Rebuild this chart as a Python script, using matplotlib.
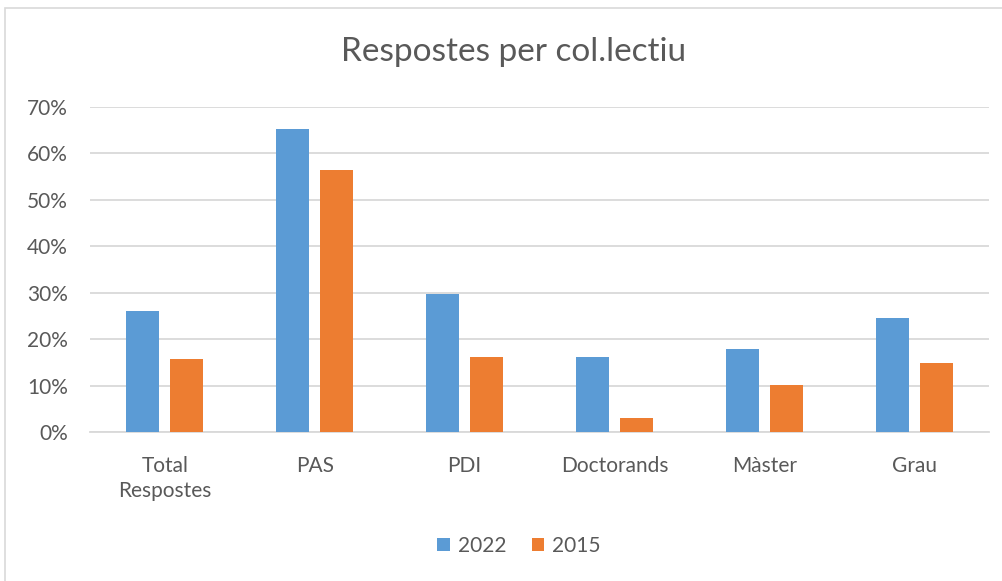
import matplotlib
matplotlib.use('Agg')
import matplotlib.pyplot as plt
import numpy as np
from matplotlib.patches import Rectangle

categories = ["Total\nRespostes", "PAS", "PDI", "Doctorands", "Màster", "Grau"]
series_2022 = [26.0, 65.3, 29.7, 16.2, 17.9, 24.6]
series_2015 = [15.7, 56.4, 16.2, 3.0, 10.1, 14.9]
tick_values = [0, 10, 20, 30, 40, 50, 60, 70]

text_color = "#595959"
plt.rcParams['font.family'] = ['Lato', 'DejaVu Sans']

fig = plt.figure(figsize=(10.03, 5.81), dpi=100)
ax = fig.add_axes([90 / 1003, 1 - 432 / 581, 899 / 1003, 325 / 581])

# marco gris de la figura (solo se ven los bordes superior e izquierdo)
fig.patches.append(Rectangle((5 / 1003, -0.05), 1.2, (1 - 8 / 581) + 0.05,
                             transform=fig.transFigure, fill=False,
                             edgecolor="#D9D9D9", linewidth=1.2))

x = np.arange(len(categories))
w = 0.22
off = 0.147
ax.bar(x - off, series_2022, width=w, color="#5B9BD5", label="2022", zorder=3)
ax.bar(x + off, series_2015, width=w, color="#ED7D31", label="2015", zorder=3)

ax.set_xlim(-0.5, len(categories) - 0.5)
ax.set_ylim(0, 70)
ax.set_yticks(tick_values)
ax.set_yticklabels([f"{v}%" for v in tick_values])
ax.set_xticks(x)
ax.set_xticklabels(categories, linespacing=1.35)
ax.tick_params(axis="both", length=0, labelsize=15, colors=text_color)
ax.tick_params(axis="x", pad=17)
ax.tick_params(axis="y", pad=16)
ax.grid(axis="y", color="#D9D9D9", linewidth=1.3, zorder=0)
for s in ["top", "right", "left"]:
    ax.spines[s].set_visible(False)
ax.spines["bottom"].set_color("#D9D9D9")
ax.spines["bottom"].set_linewidth(1.3)

fig.text(0.512, 1 - 52 / 581, "Respostes per col.lectiu", ha="center", va="center",
         fontsize=24, color=text_color)

fig.legend(loc="center", bbox_to_anchor=(519 / 1003, 1 - 546 / 581), ncol=2, frameon=False,
           fontsize=15, labelcolor=text_color, handlelength=0.6, handleheight=0.6,
           handletextpad=0.4, columnspacing=1.2)

fig.savefig("out.png", dpi=100, facecolor="white")
